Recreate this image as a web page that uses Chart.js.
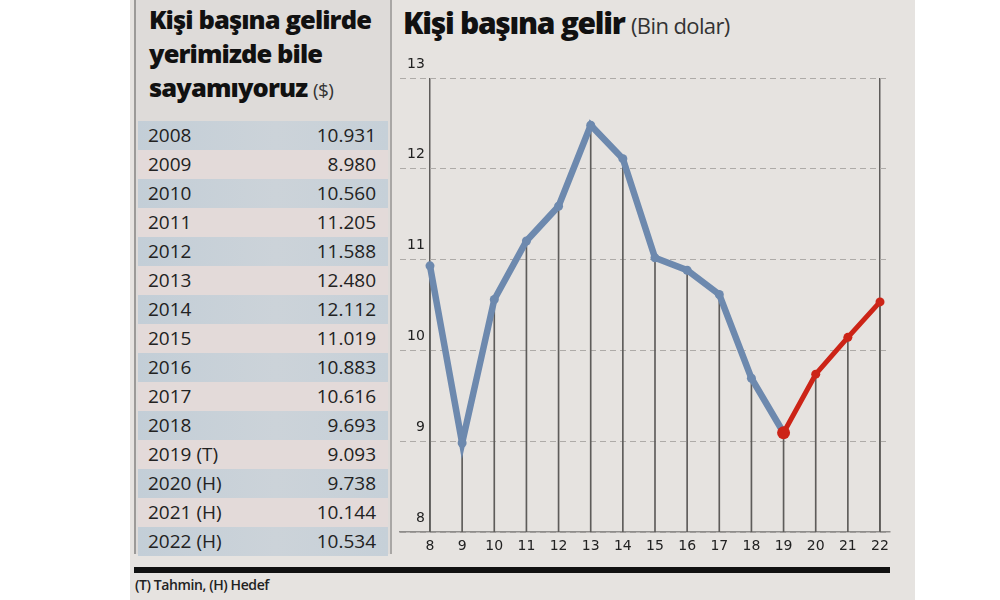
<!DOCTYPE html>
<html>
<head>
<meta charset="utf-8">
<script src="https://cdn.jsdelivr.net/npm/chart.js@4/dist/chart.umd.min.js"></script>
<style>
  html, body { margin: 0; padding: 0; background: #fff; }
  #page { position: relative; width: 1000px; height: 600px; overflow: hidden; font-family: "Open Sans", sans-serif; }
  #paper { position: absolute; left: 130px; top: 0; width: 785px; height: 600px; background: #e6e3e0; }
  #panel { position: absolute; left: 134px; top: 0; width: 254px; height: 554px; background: #dedbd9;
           border-left: 2px solid #9c9a98; border-right: 2px solid #a9a7a5; }
  #panelTitle { position: absolute; left: 13px; top: 2px; font-weight: 800; font-size: 25.5px; line-height: 34px;
                color: #111; letter-spacing: -0.9px; }
  #panelTitle span { font-weight: 400; font-size: 19px; color: #333; letter-spacing: -0.5px; }
  #table { position: absolute; left: 2px; top: 121px; width: 250px; }
  .row { height: 29px; line-height: 29px; font-size: 19px; color: #222; position: relative; }
  .row.odd { background: linear-gradient(90deg, #c3ced7 0%, #ccd3d9 55%, #c6d0d8 100%); }
  .row.even { background: #e3dad9; }
  .row .y { position: absolute; left: 10px; }
  .row .v { position: absolute; right: 12px; }
  #chartTitle { position: absolute; left: 403px; top: 2px; font-size: 30px; font-weight: 800; color: #111; letter-spacing: -1.3px; }
  #chartTitle span { font-size: 22px; font-weight: 400; color: #333; letter-spacing: -0.6px; }
  #rule { position: absolute; left: 134px; top: 567px; width: 756px; height: 6px; background: #111; }
  #foot { position: absolute; left: 135px; top: 575px; font-size: 14px; font-weight: 600; color: #222; letter-spacing: -0.4px; }
  #wrap { position: absolute; left: 390px; top: 0; width: 520px; height: 600px; }
</style>
</head>
<body>
<div id="page">
  <div id="paper"></div>
  <div id="panel">
    <div id="panelTitle">Kişi başına gelirde<br>yerimizde bile<br>sayamıyoruz <span>($)</span></div>
    <div id="table"></div>
  </div>
  <div id="chartTitle">Kişi başına gelir <span>(Bin dolar)</span></div>
  <div id="wrap"><canvas id="chart" width="520" height="600"></canvas></div>
  <div id="rule"></div>
  <div id="foot">(T) Tahmin, (H) Hedef</div>
</div>
<script>
// Data (dolar, per head)
var years = [2008, 2009, 2010, 2011, 2012, 2013, 2014, 2015, 2016, 2017, 2018, 2019, 2020, 2021, 2022];
var notes = ["", "", "", "", "", "", "", "", "", "", "", "T", "H", "H", "H"];
var perHead = [10931, 8980, 10560, 11205, 11588, 12480, 12112, 11019, 10883, 10616, 9693, 9093, 9738, 10144, 10534];
var xTickLabels = ["8", "9", "10", "11", "12", "13", "14", "15", "16", "17", "18", "19", "20", "21", "22"];
var yTicks = [8, 9, 10, 11, 12, 13];

// first year that is a forecast / target
var forecastStart = notes.indexOf("T");

// left table
var table = document.getElementById("table");
years.forEach(function (y, i) {
    var row = document.createElement("div");
    row.className = "row " + (i % 2 === 0 ? "odd" : "even");
    var label = String(y) + (notes[i] ? " (" + notes[i] + ")" : "");
    var val = perHead[i].toLocaleString("tr-TR");
    row.innerHTML = '<span class="y">' + label + '</span><span class="v">' + val + '</span>';
    table.appendChild(row);
});

var pts = function (from, to) {
    return perHead.map(function (v, i) {
        return { x: i, y: (i >= from && i <= to) ? v / 1000 : null };
    });
};

var ctx = document.getElementById("chart").getContext("2d");
new Chart(ctx, {
    type: "line",
    data: {
        datasets: [
            {
                // blue: realised
                type: "line",
                data: pts(0, forecastStart),
                borderColor: "#6d89ae",
                backgroundColor: "#6d89ae",
                borderWidth: 6.5,
                pointRadius: 4.5,
                pointBorderWidth: 0,
                tension: 0,
                order: 2
            },
            {
                // red: forecast + targets
                type: "line",
                data: pts(forecastStart, perHead.length - 1),
                borderColor: "#cc2417",
                backgroundColor: "#cc2417",
                borderWidth: 5,
                pointRadius: function (c) { return c.dataIndex === forecastStart ? 6.5 : 4.5; },
                pointBorderWidth: 0,
                tension: 0,
                order: 1
            },
            {
                // thin drop lines down to the base
                type: "bar",
                data: perHead.map(function (v, i) { return { x: i, y: v / 1000 }; }),
                backgroundColor: "#5e5c5a",
                barThickness: 1,
                order: 3
            }
        ]
    },
    options: {
        responsive: false,
        animation: false,
        layout: { padding: { left: 10, right: 20, top: 78, bottom: 38 } },
        plugins: { legend: { display: false }, tooltip: { enabled: false } },
        scales: {
            x: {
                type: "linear",
                offset: false,
                min: -0.933,
                max: 14.311,
                afterFit: function (s) { s.height = 30; },
                afterBuildTicks: function (s) {
                    s.ticks = xTickLabels.map(function (t, i) { return { value: i }; });
                },
                ticks: {
                    autoSkip: false,
                    maxRotation: 0,
                    padding: 6,
                    color: "#222",
                    font: { family: "DejaVu Sans", size: 14 },
                    callback: function (v) { return xTickLabels[v]; }
                },
                grid: {
                    offset: false,
                    drawTicks: false,
                    lineWidth: 1.5,
                    color: function (c) {
                        return (c.index === 0 || c.index === xTickLabels.length - 1) ? "#5e5c5a" : "rgba(0,0,0,0)";
                    }
                },
                border: { display: true, color: "#8f8d8b", width: 1.5 }
            },
            y: {
                min: 8,
                max: 13,
                afterFit: function (s) { s.width = 0; },
                afterBuildTicks: function (s) {
                    s.ticks = yTicks.map(function (v) { return { value: v }; });
                },
                ticks: {
                    mirror: true,
                    crossAlign: "far",
                    padding: 7,
                    labelOffset: -14,
                    color: "#222",
                    font: { family: "DejaVu Sans", size: 14 }
                },
                grid: { drawTicks: false, color: "#aeaba8", lineWidth: 1 },
                border: { display: false, dash: [6, 4] }
            }
        }
    }
});
</script>
</body>
</html>
